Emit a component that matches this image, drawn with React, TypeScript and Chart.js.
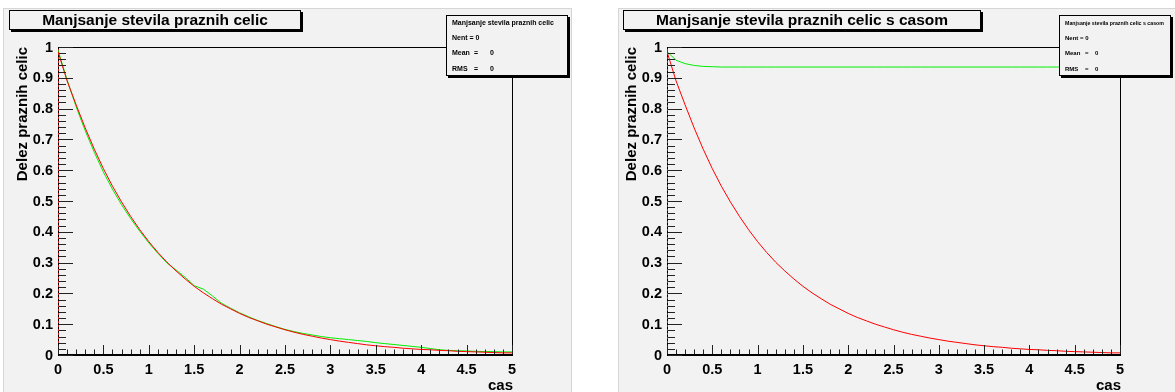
import React, { useEffect, useRef } from "react";
import { Chart, registerables } from "chart.js";

Chart.register(...registerables);

// ---------- data ----------
const xValues = [
  0, 0.1, 0.2, 0.3, 0.4, 0.5, 0.6, 0.7, 0.8, 0.9,
  1.0, 1.1, 1.2, 1.3, 1.4, 1.5, 1.6, 1.7, 1.8, 1.9,
  2.0, 2.1, 2.2, 2.3, 2.4, 2.5, 2.6, 2.7, 2.8, 2.9,
  3.0, 3.1, 3.2, 3.3, 3.4, 3.5, 3.6, 3.7, 3.8, 3.9,
  4.0, 4.1, 4.2, 4.3, 4.4, 4.5, 4.6, 4.7, 4.8, 4.9, 5.0,
];

// left panel, red (model)
const leftModel = [
  0.985, 0.890, 0.812, 0.737, 0.668, 0.605, 0.548, 0.497, 0.450, 0.407,
  0.368, 0.333, 0.301, 0.273, 0.247, 0.223, 0.202, 0.183, 0.165, 0.150,
  0.135, 0.122, 0.111, 0.100, 0.091, 0.082, 0.074, 0.067, 0.061, 0.055,
  0.050, 0.045, 0.041, 0.037, 0.033, 0.030, 0.027, 0.025, 0.022, 0.020,
  0.018, 0.017, 0.015, 0.014, 0.012, 0.011, 0.010, 0.009, 0.008, 0.007, 0.007,
];

// left panel, green (simulation)
const leftSim = [
  0.990, 0.893, 0.806, 0.728, 0.658, 0.594, 0.538, 0.488, 0.443, 0.402,
  0.364, 0.330, 0.299, 0.276, 0.252, 0.225, 0.214, 0.192, 0.168, 0.152,
  0.137, 0.124, 0.112, 0.102, 0.092, 0.083, 0.076, 0.070, 0.065, 0.060,
  0.056, 0.053, 0.050, 0.047, 0.044, 0.040, 0.037, 0.034, 0.031, 0.028,
  0.025, 0.021, 0.017, 0.015, 0.014, 0.013, 0.012, 0.011, 0.011, 0.010, 0.010,
];

// right panel, red (model)
const rightModel = [
  0.985, 0.890, 0.812, 0.737, 0.668, 0.605, 0.548, 0.497, 0.450, 0.407,
  0.368, 0.333, 0.301, 0.273, 0.247, 0.223, 0.202, 0.183, 0.165, 0.150,
  0.135, 0.122, 0.111, 0.100, 0.091, 0.082, 0.074, 0.067, 0.061, 0.055,
  0.050, 0.045, 0.041, 0.037, 0.033, 0.030, 0.027, 0.025, 0.022, 0.020,
  0.018, 0.017, 0.015, 0.014, 0.012, 0.011, 0.010, 0.009, 0.008, 0.007, 0.007,
];

// right panel, green (simulation)
const rightSim = [
  0.985, 0.957, 0.946, 0.940, 0.937, 0.936, 0.935, 0.935, 0.935, 0.935,
  0.935, 0.935, 0.935, 0.935, 0.935, 0.935, 0.935, 0.935, 0.935, 0.935,
  0.935, 0.935, 0.935, 0.935, 0.935, 0.935, 0.935, 0.935, 0.935, 0.935,
  0.935, 0.935, 0.935, 0.935, 0.935, 0.935, 0.935, 0.935, 0.935, 0.935,
  0.935, 0.935, 0.935, 0.935, 0.935, 0.935, 0.935, 0.935, 0.935, 0.935, 0.935,
];

// red dotted trace along the left edge (x = 0)
const edgeTraceX = [0, 0];
const edgeTraceY = [0, 1];

const xTickLabels = ["0", "0.5", "1", "1.5", "2", "2.5", "3", "3.5", "4", "4.5", "5"];
const yTickLabels = ["0", "0.1", "0.2", "0.3", "0.4", "0.5", "0.6", "0.7", "0.8", "0.9", "1"];

const leftTitle = "Manjsanje stevila praznih celic";
const rightTitle = "Manjsanje stevila praznih celic s casom";
const leftStatsTitle = "Manjsanje stevila praznih celic";
const rightStatsTitle = "Manjsanje stevila praznih celic s casom";
const yAxisTitle = "Delez praznih celic";
const xAxisTitle = "cas";
const statsNent = "Nent = 0";
const statsMean = ["Mean", "=", "0"];
const statsRms = ["RMS", "=", "0"];

// ---------- styling / layout ----------
const FONT = '"Liberation Sans", Arial, Helvetica, sans-serif';
const PAD_BG = "#f2f2f2";

type PanelCfg = {
  left: number;
  width: number;
  height: number;
  pad: { x: number; y: number; w: number; h: number };
  padding: { left: number; right: number; top: number; bottom: number };
  title: string;
  titleX: number;
  stats: { x: number; y: number; w: number; h: number; font: number; titleW: number; eqDx: number; valDx: number };
  statsTitle: string;
  model: number[];
  sim: number[];
};

const panels: PanelCfg[] = [
  {
    left: 0,
    width: 587,
    height: 392,
    pad: { x: 3, y: 8, w: 569, h: 390 },
    padding: { left: 58, right: 75, top: 47, bottom: 37 },
    title: leftTitle,
    titleX: 9,
    stats: { x: 446, y: 15, w: 122, h: 61, font: 7, titleW: 106, eqDx: 28, valDx: 44 },
    statsTitle: leftStatsTitle,
    model: leftModel,
    sim: leftSim,
  },
  {
    left: 587,
    width: 588,
    height: 392,
    pad: { x: 31, y: 8, w: 560, h: 390 },
    padding: { left: 80, right: 55, top: 47, bottom: 37 },
    title: rightTitle,
    titleX: 36,
    stats: { x: 472, y: 15, w: 112, h: 61, font: 6, titleW: 99, eqDx: 26, valDx: 36 },
    statsTitle: rightStatsTitle,
    model: rightModel,
    sim: rightSim,
  },
];

function makePlugin(cfg: PanelCfg) {
  return {
    id: "rootStyle",
    beforeDraw(chart: any) {
      const ctx = chart.ctx as CanvasRenderingContext2D;
      ctx.save();
      ctx.fillStyle = "#ffffff";
      ctx.fillRect(0, 0, chart.width, chart.height);
      const p = cfg.pad;
      ctx.fillStyle = PAD_BG;
      ctx.fillRect(p.x, p.y, p.w, p.h);
      ctx.strokeStyle = "#d6d6d6";
      ctx.lineWidth = 1;
      ctx.strokeRect(p.x + 0.5, p.y + 0.5, p.w - 1, p.h - 1);
      ctx.restore();
    },
    beforeDatasetsDraw(chart: any) {
      const ctx = chart.ctx as CanvasRenderingContext2D;
      const L = Math.round(chart.chartArea.left);
      const T = Math.round(chart.chartArea.top);
      const B = Math.round(chart.chartArea.bottom);
      ctx.save();
      ctx.strokeStyle = "#000";
      ctx.lineWidth = 1;
      ctx.beginPath();
      ctx.moveTo(L + 0.5, B);
      ctx.lineTo(L + 0.5, T);
      ctx.stroke();
      ctx.restore();
    },
    afterDatasetsDraw(chart: any) {
      const ctx = chart.ctx as CanvasRenderingContext2D;
      const xs = chart.scales.x;
      const ys = chart.scales.y;
      const L = Math.round(chart.chartArea.left);
      const R = Math.round(chart.chartArea.right);
      const T = Math.round(chart.chartArea.top);
      const B = Math.round(chart.chartArea.bottom);
      ctx.save();
      // frame (top + right)
      ctx.strokeStyle = "#000";
      ctx.lineWidth = 1;
      ctx.beginPath();
      ctx.moveTo(L, T + 0.5);
      ctx.lineTo(R + 0.5, T + 0.5);
      ctx.lineTo(R + 0.5, B);
      ctx.stroke();
      // x axis line (thicker)
      ctx.lineWidth = 2;
      ctx.beginPath();
      ctx.moveTo(L, B);
      ctx.lineTo(R + 1, B);
      ctx.stroke();

      // y ticks: every 0.02, major every 0.1
      ctx.lineWidth = 1;
      ctx.strokeStyle = "#222";
      ctx.beginPath();
      for (let i = 0; i <= 50; i++) {
        const v = i / 50;
        const y = Math.round(ys.getPixelForValue(v)) + 0.5;
        const len = i % 5 === 0 ? 14 : 7;
        ctx.moveTo(L + 1, y);
        ctx.lineTo(L + 1 + len, y);
      }
      // x ticks: every 0.1, major every 0.5
      for (let i = 0; i <= 50; i++) {
        const v = i / 10;
        const x = Math.round(xs.getPixelForValue(v)) + 0.5;
        const len = i % 5 === 0 ? 9 : 4.5;
        ctx.moveTo(x, B - 1);
        ctx.lineTo(x, B - 1 - len);
      }
      ctx.stroke();

      // tick labels
      ctx.fillStyle = "#000";
      ctx.font = `bold 14.5px ${FONT}`;
      ctx.textAlign = "right";
      ctx.textBaseline = "middle";
      for (const lab of yTickLabels) {
        const y = ys.getPixelForValue(parseFloat(lab));
        ctx.fillText(lab, L - 5, y + 0.5);
      }
      ctx.textAlign = "center";
      for (const lab of xTickLabels) {
        const x = xs.getPixelForValue(parseFloat(lab));
        ctx.fillText(lab, x, B + 15);
      }
      // axis titles
      ctx.font = `bold 15px ${FONT}`;
      ctx.textAlign = "right";
      ctx.fillText(xAxisTitle, R + 1, B + 31);
      ctx.save();
      ctx.translate(L - 35, T);
      ctx.rotate(-Math.PI / 2);
      ctx.textAlign = "right";
      ctx.textBaseline = "middle";
      ctx.fillText(yAxisTitle, 0, 0);
      ctx.restore();
      ctx.restore();
    },
    afterDraw(chart: any) {
      const ctx = chart.ctx as CanvasRenderingContext2D;
      ctx.save();
      // title box
      ctx.font = `bold 15.5px ${FONT}`;
      const tw = ctx.measureText(cfg.title).width;
      const bw = Math.round(tw + 66);
      const bx = cfg.titleX;
      const by = 10;
      const bh = 20;
      ctx.fillStyle = "#000";
      ctx.fillRect(bx + 2, by + 2, bw, bh);
      ctx.fillStyle = PAD_BG;
      ctx.fillRect(bx, by, bw, bh);
      ctx.strokeStyle = "#000";
      ctx.lineWidth = 1;
      ctx.strokeRect(bx + 0.5, by + 0.5, bw - 1, bh - 1);
      ctx.fillStyle = "#000";
      ctx.textAlign = "center";
      ctx.textBaseline = "middle";
      ctx.fillText(cfg.title, bx + bw / 2, by + bh / 2 + 1);

      // stats box
      const s = cfg.stats;
      ctx.fillStyle = "#000";
      ctx.fillRect(s.x + 2, s.y + 2, s.w, s.h);
      ctx.fillStyle = PAD_BG;
      ctx.fillRect(s.x, s.y, s.w, s.h);
      ctx.strokeRect(s.x + 0.5, s.y + 0.5, s.w - 1, s.h - 1);
      ctx.fillStyle = "#000";
      ctx.font = `bold ${s.font}px ${FONT}`;
      ctx.textAlign = "left";
      ctx.textBaseline = "middle";
      const tx = s.x + 6;
      ctx.fillText(cfg.statsTitle, tx, s.y + 8, s.titleW);
      ctx.fillText(statsNent, tx, s.y + 23);
      const rows = [statsMean, statsRms];
      rows.forEach((r, i) => {
        const yy = s.y + 38 + i * 16;
        ctx.fillText(r[0], tx, yy);
        ctx.fillText(r[1], s.x + s.eqDx, yy);
        ctx.fillText(r[2], s.x + s.valDx, yy);
      });
      ctx.restore();
    },
  };
}

function Panel({ cfg }: { cfg: PanelCfg }) {
  const ref = useRef<HTMLCanvasElement | null>(null);
  useEffect(() => {
    if (!ref.current) return;
    const toPts = (ys: number[]) => xValues.map((x, i) => ({ x, y: ys[i] }));
    const chart = new Chart(ref.current, {
      type: "line",
      data: {
        datasets: [
          {
            label: "model",
            data: toPts(cfg.model),
            borderColor: "#ff0000",
            borderWidth: 1,
            pointRadius: 0,
            tension: 0,
            fill: false,
          },
          {
            label: "sim",
            data: toPts(cfg.sim),
            borderColor: "#00ee00",
            borderWidth: 1,
            pointRadius: 0,
            tension: 0,
            fill: false,
          },
          {
            label: "edge",
            data: edgeTraceX.map((x, i) => ({ x, y: edgeTraceY[i] })),
            borderColor: "#ff2222",
            borderWidth: 1.5,
            borderDash: [2, 2],
            pointRadius: 0,
            fill: false,
          },
        ],
      },
      options: {
        animation: false,
        responsive: false,
        maintainAspectRatio: false,
        devicePixelRatio: 1,
        layout: { padding: cfg.padding },
        plugins: { legend: { display: false }, title: { display: false }, tooltip: { enabled: false } },
        events: [],
        scales: {
          x: { type: "linear", min: 0, max: 5, display: false },
          y: { type: "linear", min: 0, max: 1, display: false },
        },
      },
      plugins: [makePlugin(cfg) as any],
    } as any);
    return () => chart.destroy();
  }, [cfg]);
  return (
    <canvas
      ref={ref}
      width={cfg.width}
      height={cfg.height}
      style={{ position: "absolute", left: cfg.left, top: 0, width: cfg.width, height: cfg.height }}
    />
  );
}

export default function App() {
  return (
    <div style={{ position: "fixed", left: 0, top: 0, width: 1175, height: 392, background: "#fff", overflow: "hidden" }}>
      {panels.map((p, i) => (
        <Panel key={i} cfg={p} />
      ))}
    </div>
  );
}
